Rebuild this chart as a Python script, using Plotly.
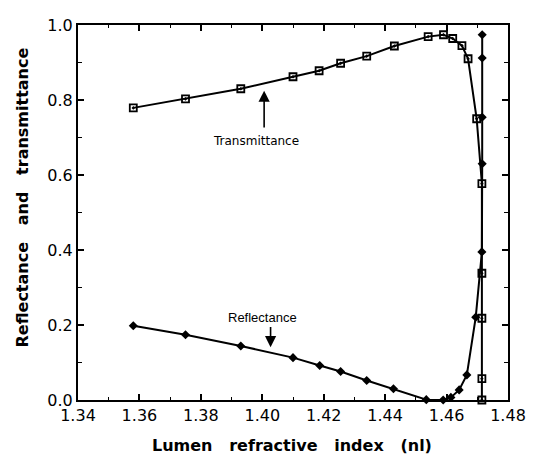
import plotly.graph_objects as go

# Lumen refractive index (x) and values
trans_x = [1.358, 1.375, 1.393, 1.410, 1.4185, 1.4255, 1.434, 1.443, 1.454, 1.459,
           1.462, 1.465, 1.467, 1.4698, 1.4715, 1.4715, 1.4715, 1.4715, 1.4715]
trans_y = [0.779, 0.803, 0.830, 0.862, 0.878, 0.898, 0.917, 0.944, 0.969, 0.974,
           0.964, 0.945, 0.910, 0.750, 0.577, 0.338, 0.218, 0.057, 0.0]

refl_x = [1.358, 1.375, 1.393, 1.410, 1.4187, 1.4255, 1.434, 1.4427, 1.4534, 1.4589,
          1.4614, 1.4641, 1.4666, 1.4695, 1.4715, 1.4716, 1.4716, 1.4716, 1.4716]
refl_y = [0.198, 0.174, 0.144, 0.113, 0.092, 0.076, 0.052, 0.030, 0.001, 0.0,
          0.007, 0.027, 0.067, 0.221, 0.395, 0.630, 0.754, 0.912, 0.974]

x_ticks = [1.34, 1.36, 1.38, 1.40, 1.42, 1.44, 1.46, 1.48]
y_ticks = [0.0, 0.2, 0.4, 0.6, 0.8, 1.0]

fig = go.Figure()
fig.add_trace(go.Scatter(
    x=refl_x, y=refl_y, mode="lines+markers", name="Reflectance",
    line=dict(color="black", width=2),
    marker=dict(symbol="diamond", size=7, color="black"),
    cliponaxis=False,
))
fig.add_trace(go.Scatter(
    x=trans_x, y=trans_y, mode="lines+markers", name="Transmittance",
    line=dict(color="black", width=2),
    marker=dict(symbol="square-open-dot", size=7, color="black",
                line=dict(width=1.8, color="black")),
    cliponaxis=False,
))

axis_font = dict(family="DejaVu Sans, Arial, sans-serif", size=16, color="black")

fig.update_xaxes(
    range=[1.34, 1.48], tickvals=x_ticks,
    ticktext=[f"{v:.2f}" for v in x_ticks],
    ticks="inside", ticklen=6, tickwidth=1.5, tickcolor="black",
    minor=dict(dtick=0.01, tick0=1.34, ticks="inside", ticklen=3,
               tickwidth=1.2, tickcolor="black"),
    showline=True, linecolor="black", linewidth=2, mirror="ticks",
    showgrid=False, zeroline=False, tickfont=axis_font,
    ticklabeloverflow="allow",
)
fig.update_yaxes(
    range=[0, 1.0], tickvals=y_ticks,
    ticktext=[f"{v:.1f}" for v in y_ticks],
    ticks="inside", ticklen=6, tickwidth=1.5, tickcolor="black",
    minor=dict(dtick=0.1, tick0=0, ticks="inside", ticklen=4,
               tickwidth=1.2, tickcolor="black"),
    showline=True, linecolor="black", linewidth=2, mirror="ticks",
    showgrid=False, zeroline=False, tickfont=axis_font,
    ticklabeloverflow="allow",
)

title_font = dict(family="DejaVu Sans, Arial, sans-serif", size=16,
                  color="black", weight="bold")
trans_font = dict(family="DejaVu Sans, Arial, sans-serif", size=12, color="black")
refl_font = dict(family="Liberation Sans, Arial, sans-serif", size=13, color="black")
sp = "\u00a0\u00a0\u00a0"

# page body has an 8px margin, so the figure is sized/margined to compensate
fig.update_layout(
    width=526, height=449,
    margin=dict(l=70, r=13, t=8, b=57),
    paper_bgcolor="white", plot_bgcolor="white",
    showlegend=False,
)

fig.add_annotation(text="Lumen" + sp + "refractive" + sp + "index" + sp + "(nl)",
                   xref="paper", yref="paper", x=0.497, y=0, yshift=-45,
                   xanchor="center", yanchor="middle", showarrow=False,
                   font=title_font)
fig.add_annotation(text="Reflectance" + sp + "and" + sp + "transmittance",
                   xref="paper", yref="paper", x=0, y=0.54, xshift=-56,
                   xanchor="center", yanchor="middle", textangle=-90,
                   showarrow=False, font=title_font)

# Transmittance label + upward arrow
fig.add_annotation(text="Transmittance", x=1.3981, y=0.692, xref="x", yref="y",
                   showarrow=False, font=trans_font)
fig.add_annotation(text="", x=1.4006, y=0.825, ax=1.4006, ay=0.723,
                   xref="x", yref="y", axref="x", ayref="y",
                   showarrow=True, arrowhead=2, arrowsize=1.4, arrowwidth=1.6,
                   arrowcolor="black", standoff=0)

# Reflectance label + downward arrow
fig.add_annotation(text="Reflectance", x=1.4001, y=0.219, xref="x", yref="y",
                   showarrow=False, font=refl_font)
fig.add_annotation(text="", x=1.4027, y=0.141, ax=1.4027, ay=0.199,
                   xref="x", yref="y", axref="x", ayref="y",
                   showarrow=True, arrowhead=2, arrowsize=1.4, arrowwidth=1.6,
                   arrowcolor="black", standoff=0)

fig.write_html("out.html")
